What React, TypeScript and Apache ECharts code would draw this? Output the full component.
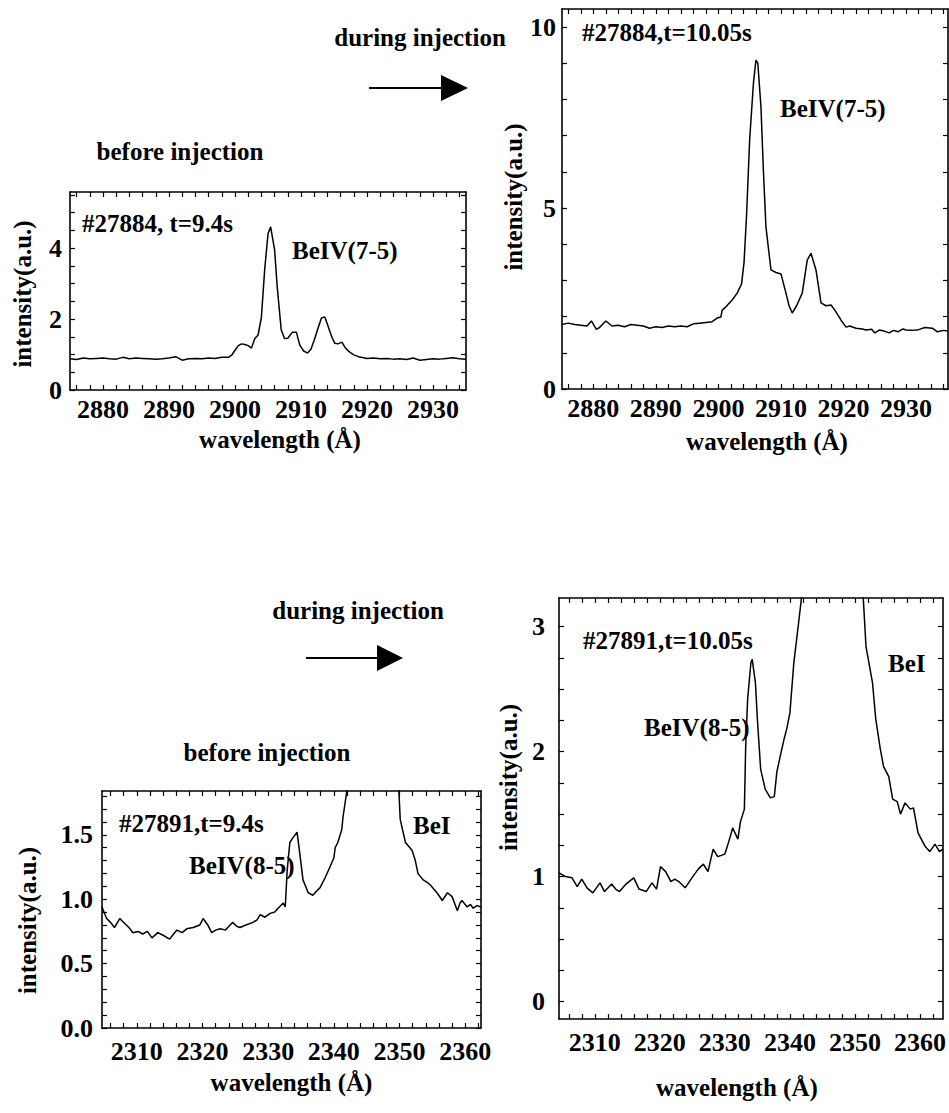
import React, { useEffect, useRef } from "react";
import * as echarts from "echarts";

// ---------- data: BeIV(7-5), before injection (#27884, t=9.4s) ----------
const w1 = [2875, 2876, 2877, 2878, 2879, 2880, 2881, 2882, 2883, 2884, 2885, 2886, 2887, 2888, 2889, 2890, 2891, 2892, 2893, 2894, 2895, 2896, 2897, 2898, 2899,
  2899.5, 2900, 2900.5, 2901, 2901.5, 2902, 2902.5, 2903, 2903.5, 2904, 2904.5, 2905, 2905.4, 2906, 2906.4, 2907, 2907.5, 2908, 2908.7, 2909.3, 2909.8,
  2910.4, 2911, 2911.5, 2912, 2912.5, 2913.1, 2913.6, 2914, 2914.3, 2914.7, 2915.1, 2915.6, 2916.2, 2916.6, 2917, 2917.5, 2918, 2918.7, 2919.5,
  2920, 2921, 2922, 2923, 2924, 2925, 2926, 2927, 2928, 2929, 2930, 2931, 2932, 2933, 2934, 2935];
const i1 = [0.88, 0.86, 0.90, 0.88, 0.89, 0.90, 0.88, 0.87, 0.92, 0.88, 0.90, 0.89, 0.88, 0.87, 0.88, 0.90, 0.94, 0.84, 0.88, 0.89, 0.88, 0.90, 0.89, 0.92, 0.92,
  0.98, 1.12, 1.25, 1.30, 1.28, 1.25, 1.18, 1.45, 1.55, 2.05, 3.4, 4.4, 4.6, 3.95, 2.9, 1.7, 1.45, 1.46, 1.63, 1.63, 1.27,
  1.1, 1.04, 1.15, 1.4, 1.7, 2.03, 2.06, 1.85, 1.69, 1.48, 1.32, 1.30, 1.35, 1.22, 1.13, 1.05, 0.99, 0.94, 0.91,
  0.89, 0.90, 0.88, 0.89, 0.87, 0.88, 0.86, 0.90, 0.84, 0.86, 0.88, 0.87, 0.89, 0.91, 0.88, 0.87];

// ---------- data: BeIV(7-5), during injection (#27884, t=10.05s) ----------
const w2 = [2875, 2876, 2877, 2878, 2879, 2879.7, 2880.5, 2881, 2882, 2883, 2884, 2885, 2886, 2887, 2888, 2889, 2890, 2891, 2892, 2893, 2894, 2895, 2896, 2897, 2898, 2899,
  2899.8, 2900.4, 2900.6, 2901.2, 2902.2, 2903, 2903.7, 2904.1, 2904.5, 2905, 2905.6, 2906, 2906.3, 2906.8, 2907.2, 2907.6, 2908.4, 2909.2, 2910, 2910.8, 2911.3, 2911.8,
  2912.5, 2913.4, 2914.2, 2914.8, 2915.6, 2916.4, 2917.2, 2918, 2918.8, 2919.6, 2920.4, 2921, 2922, 2923, 2923.6, 2924.5, 2925, 2925.7, 2926.5, 2927.3, 2928, 2928.7,
  2929.5, 2930, 2931, 2932, 2933, 2934.2, 2935, 2936, 2936.7];
const i2 = [1.78, 1.82, 1.78, 1.76, 1.74, 1.88, 1.65, 1.70, 1.88, 1.74, 1.76, 1.72, 1.78, 1.76, 1.74, 1.68, 1.72, 1.70, 1.74, 1.72, 1.74, 1.72, 1.80, 1.82, 1.84, 1.86,
  1.96, 1.99, 2.18, 2.27, 2.46, 2.65, 2.9, 3.5, 4.8, 6.9, 8.45, 9.09, 9.0, 7.8, 6.0, 4.48, 3.29, 3.22, 3.18, 2.65, 2.3, 2.1,
  2.3, 2.65, 3.56, 3.75, 3.29, 2.38, 2.3, 2.32, 2.13, 1.9, 1.71, 1.74, 1.68, 1.66, 1.63, 1.65, 1.55, 1.63, 1.60, 1.55, 1.62, 1.58,
  1.66, 1.63, 1.62, 1.64, 1.70, 1.68, 1.58, 1.62, 1.60];

// ---------- data: BeIV(8-5), before injection (#27891, t=9.4s) ----------
const w3 = [2304.7, 2305.4, 2306, 2306.6, 2307.4, 2308.2, 2308.8, 2309.4, 2310.2, 2310.9, 2311.6, 2312.3, 2313.2, 2314, 2315, 2315.6, 2316.1, 2316.9, 2317.6, 2318.6,
  2319.6, 2320.1, 2320.8, 2321.4, 2322, 2322.7, 2323.5, 2324.2, 2324.6, 2325.2, 2325.7, 2326.6, 2327.7, 2328.3, 2328.8, 2329.5, 2330.3, 2331, 2331.5, 2332.3,
  2332.6, 2332.9, 2333.3, 2333.8, 2334.4, 2334.8, 2335.3, 2336.1, 2336.8, 2337.3, 2337.9, 2338.7, 2339.4, 2340, 2340.2, 2340.6, 2341.2, 2341.4, 2342,
  2342.6, 2344, 2346, 2348, 2349.4, 2349.8, 2350.1, 2350.9, 2351.9, 2352.4, 2352.8, 2353.6, 2354.2, 2354.7, 2355.2, 2355.7, 2356.5, 2357.3, 2358,
  2358.8, 2359.2, 2359.5, 2360.3, 2360.8, 2361.2, 2361.8, 2362.4];
const i3 = [0.94, 0.85, 0.82, 0.78, 0.85, 0.81, 0.78, 0.74, 0.75, 0.73, 0.75, 0.70, 0.74, 0.72, 0.69, 0.73, 0.76, 0.74, 0.77, 0.78,
  0.80, 0.85, 0.80, 0.74, 0.76, 0.77, 0.76, 0.80, 0.82, 0.79, 0.78, 0.80, 0.82, 0.84, 0.88, 0.86, 0.89, 0.90, 0.93, 0.97,
  0.94, 1.23, 1.44, 1.48, 1.52, 1.36, 1.15, 1.05, 1.03, 1.06, 1.09, 1.17, 1.25, 1.32, 1.40, 1.44, 1.54, 1.64, 1.85,
  2.6, 5.0, 8.0, 6.0, 2.6, 1.95, 1.62, 1.44, 1.38, 1.30, 1.20, 1.15, 1.13, 1.11, 1.08, 1.05, 0.99, 1.05, 1.02,
  0.91, 0.97, 0.99, 0.94, 0.96, 0.93, 0.95, 0.94];

// ---------- data: BeIV(8-5), during injection (#27891, t=10.05s) ----------
const w4 = [2304.5, 2305.5, 2306.5, 2307.3, 2308, 2308.8, 2309.7, 2310.8, 2311.5, 2312.6, 2313.2, 2313.8, 2314.8, 2315.5, 2316, 2316.8, 2317.9, 2318.8, 2319.5,
  2320.1, 2320.9, 2321.7, 2322.3, 2322.9, 2323.9, 2324.8, 2325.9, 2326.7, 2327.4, 2328.2, 2328.9, 2330, 2330.6, 2331.2, 2332, 2332.4, 2333, 2333.2, 2333.5,
  2334, 2334.2, 2334.7, 2335, 2335.5, 2336.2, 2337, 2337.6, 2338, 2338.5, 2339.1, 2339.5, 2340, 2340.6, 2341.4, 2341.8, 2342.5, 2345, 2349, 2351.2,
  2351.7, 2352.7, 2353.2, 2353.9, 2354.4, 2355.2, 2355.8, 2356.5, 2357, 2357.7, 2358.5, 2359, 2359.7, 2360.8, 2361.5, 2362.3, 2363, 2363.5];
const i4 = [1.03, 1.0, 0.99, 0.92, 0.98, 0.91, 0.87, 0.95, 0.88, 0.94, 0.90, 0.88, 0.94, 0.97, 0.99, 0.90, 0.88, 0.95, 0.90,
  1.08, 1.04, 0.96, 0.98, 0.96, 0.91, 0.98, 1.06, 1.10, 1.04, 1.22, 1.16, 1.18, 1.28, 1.39, 1.30, 1.44, 1.54, 2.04, 2.42,
  2.71, 2.74, 2.55, 2.26, 1.86, 1.70, 1.63, 1.64, 1.84, 1.96, 2.1, 2.18, 2.31, 2.71, 3.06, 3.24, 4.5, 9.0, 9.0, 3.3,
  2.84, 2.55, 2.26, 2.02, 1.88, 1.8, 1.62, 1.6, 1.5, 1.59, 1.54, 1.55, 1.35, 1.24, 1.2, 1.26, 1.2, 1.22];

// ---------- tick labels ----------
const xLabelsTop = [2880, 2890, 2900, 2910, 2920, 2930];
const xLabelsBottom = [2310, 2320, 2330, 2340, 2350, 2360];
const yLabels1 = [0, 2, 4];
const yLabels2 = [0, 5, 10];
const yLabels3 = [0, 0.5, 1.0, 1.5];
const yLabels4 = [0, 1, 2, 3];

function steps(a: number, b: number, s: number) {
  const out: number[] = [];
  for (let k = 0; a + k * s <= b + 1e-9; k++) out.push(+(a + k * s).toFixed(4));
  return out;
}

const FONT = "Liberation Serif";
const BLACK = "#000";

type Panel = {
  grid: { left: number; top: number; width: number; height: number };
  xMin: number; xMax: number; yMin: number; yMax: number;
  xLab: number[]; xTick: number[]; yLab: number[]; yTick: number[];
  yFmt: (v: number) => string;
  xLabMargin: number; yLabMargin: number;
  xNameGap: number; xNamePad: number[];
  yNameGap: number; yNamePad: number[];
  w: number[]; v: number[];
};

const panels: Panel[] = [
  {
    grid: { left: 70, top: 192, width: 396, height: 198 },
    xMin: 2875, xMax: 2935, yMin: 0, yMax: 5.58,
    xLab: xLabelsTop, xTick: steps(2876, 2934, 2), yLab: yLabels1, yTick: steps(0, 5.5, 0.5),
    yFmt: (v) => String(v), xLabMargin: 6, yLabMargin: 8,
    xNameGap: 37, xNamePad: [0, 0, 0, 24], yNameGap: 35, yNamePad: [0, 6, 0, 0],
    w: w1, v: i1,
  },
  {
    grid: { left: 562, top: 9, width: 386, height: 380 },
    xMin: 2875, xMax: 2936.7, yMin: 0, yMax: 10.5,
    xLab: xLabelsTop, xTick: steps(2876, 2936, 2), yLab: yLabels2, yTick: steps(0, 10, 1),
    yFmt: (v) => String(v), xLabMargin: 6, yLabMargin: 6,
    xNameGap: 40, xNamePad: [0, 0, 0, 24], yNameGap: 27, yNamePad: [0, 0, 0, 4],
    w: w2, v: i2,
  },
  {
    grid: { left: 102, top: 791, width: 379, height: 237 },
    xMin: 2304.7, xMax: 2362.4, yMin: 0, yMax: 1.84,
    xLab: xLabelsBottom, xTick: steps(2306, 2362, 2), yLab: yLabels3, yTick: steps(0, 1.8, 0.1),
    yFmt: (v) => v.toFixed(1), xLabMargin: 10, yLabMargin: 9,
    xNameGap: 42, xNamePad: [0, 0, 0, 0], yNameGap: 62, yNamePad: [0, 22, 0, 0],
    w: w3, v: i3,
  },
  {
    grid: { left: 559, top: 598, width: 389, height: 421 },
    xMin: 2304.5, xMax: 2363.5, yMin: -0.14, yMax: 3.23,
    xLab: xLabelsBottom, xTick: steps(2306, 2362, 2), yLab: yLabels4, yTick: steps(0, 3, 0.25),
    yFmt: (v) => String(v), xLabMargin: 10, yLabMargin: 14,
    xNameGap: 56, xNamePad: [0, 28, 0, 0], yNameGap: 38, yNamePad: [0, 0, 0, 62],
    w: w4, v: i4,
  },
];

const lineStyle = { color: BLACK, width: 1.6 };
const labelStyle = { fontFamily: FONT, fontWeight: 700, fontSize: 26, color: BLACK };

function buildOption() {
  const xAxis: any[] = [];
  const yAxis: any[] = [];
  const series: any[] = [];
  panels.forEach((p, k) => {
    const common = { type: "value", gridIndex: k, splitLine: { show: false } };
    xAxis.push({
      ...common, position: "bottom", min: p.xMin, max: p.xMax,
      axisLine: { show: true, onZero: false, lineStyle },
      axisTick: { show: true, inside: true, length: 5, customValues: p.xTick, lineStyle: { color: BLACK, width: 1.2 } },
      axisLabel: {
        show: true, customValues: p.xLab, margin: p.xLabMargin,
        fontFamily: FONT, fontWeight: 700, fontSize: 26, color: BLACK,
        formatter: (v: number) => String(v),
      },
      name: "wavelength (Å)", nameLocation: "middle", nameGap: p.xNameGap,
      nameTextStyle: { ...labelStyle, fontSize: 25, padding: p.xNamePad },
    });
    xAxis.push({
      ...common, position: "top", min: p.xMin, max: p.xMax,
      axisLine: { show: true, onZero: false, lineStyle },
      axisTick: { show: true, inside: true, length: 5, customValues: p.xTick, lineStyle: { color: BLACK, width: 1.2 } },
      axisLabel: { show: false },
    });
    yAxis.push({
      ...common, position: "left", min: p.yMin, max: p.yMax,
      axisLine: { show: true, onZero: false, lineStyle },
      axisTick: { show: true, inside: true, length: 5, customValues: p.yTick, lineStyle: { color: BLACK, width: 1.2 } },
      axisLabel: {
        show: true, customValues: p.yLab, margin: p.yLabMargin,
        fontFamily: FONT, fontWeight: 700, fontSize: 26, color: BLACK,
        formatter: (v: number) => p.yFmt(v),
      },
      name: "intensity(a.u.)", nameLocation: "middle", nameGap: p.yNameGap,
      nameTextStyle: { ...labelStyle, fontSize: 25, padding: p.yNamePad },
    });
    yAxis.push({
      ...common, position: "right", min: p.yMin, max: p.yMax,
      axisLine: { show: true, onZero: false, lineStyle },
      axisTick: { show: true, inside: true, length: 5, customValues: p.yTick, lineStyle: { color: BLACK, width: 1.2 } },
      axisLabel: { show: false },
    });
    series.push({
      type: "line", xAxisIndex: 2 * k, yAxisIndex: 2 * k,
      data: p.w.map((x, j) => [x, p.v[j]]),
      showSymbol: false, symbol: "none", clip: true,
      lineStyle: { color: BLACK, width: 1.5 },
      silent: true,
    });
  });

  const txt = (text: string, x: number, y: number, align = "left") => ({
    type: "text", x, y, silent: true,
    style: { text, fill: BLACK, font: `bold 25px "${FONT}", serif`, align, verticalAlign: "middle" },
  });
  const arrow = (x1: number, x2: number, xTip: number, y: number, h: number) => [
    { type: "line", silent: true, shape: { x1, y1: y, x2, y2: y }, style: { stroke: BLACK, lineWidth: 2 } },
    { type: "polygon", silent: true, shape: { points: [[x2, y - h], [x2, y + h], [xTip, y]] }, style: { fill: BLACK } },
  ];

  const graphic = [
    txt("during injection", 420, 37, "center"),
    ...arrow(369, 441, 468, 88, 13),
    txt("before injection", 180, 151, "center"),
    txt("#27884, t=9.4s", 82, 223),
    txt("BeIV(7-5)", 292, 250),
    txt("#27884,t=10.05s", 582, 32),
    txt("BeIV(7-5)", 780, 108),
    txt("during injection", 358, 610, "center"),
    ...arrow(306, 377, 403, 658, 13),
    txt("before injection", 267, 752, "center"),
    txt("#27891,t=9.4s", 119, 823),
    txt("BeIV(8-5)", 189, 865),
    txt("BeI", 413, 825),
    txt("#27891,t=10.05s", 583, 640),
    txt("BeIV(8-5)", 644, 727),
    txt("BeI", 888, 663),
  ];

  return {
    animation: false,
    backgroundColor: "#fff",
    textStyle: { fontFamily: FONT, fontWeight: 700, color: BLACK },
    grid: panels.map((p) => ({ ...p.grid, containLabel: false, show: false })),
    xAxis, yAxis, series, graphic,
  };
}

export default function App() {
  const ref = useRef<HTMLDivElement>(null);
  useEffect(() => {
    if (!ref.current) return;
    const chart = echarts.init(ref.current, undefined, { renderer: "svg" });
    chart.setOption(buildOption() as any);
    return () => chart.dispose();
  }, []);
  return (
    <div
      ref={ref}
      style={{ position: "absolute", left: 0, top: 0, width: 949, height: 1113, background: "#fff" }}
    />
  );
}
